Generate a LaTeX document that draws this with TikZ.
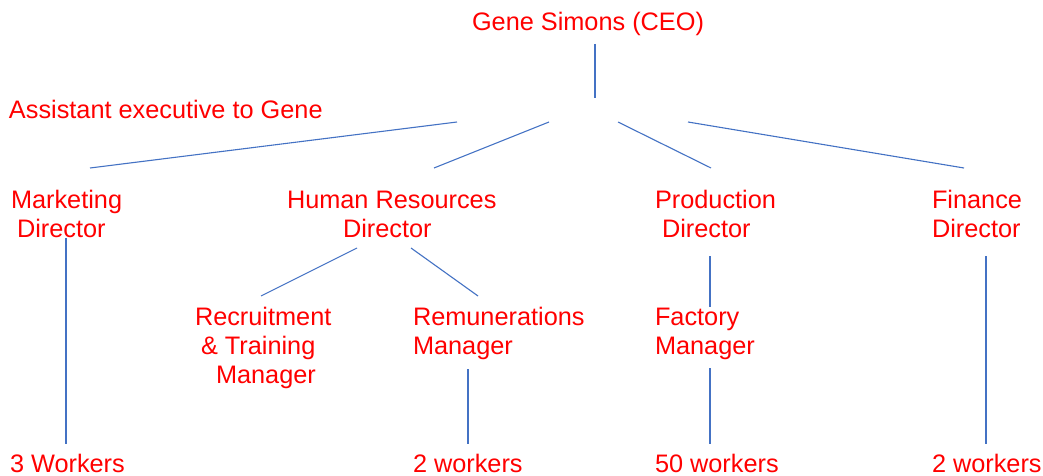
\documentclass[tikz,border=0pt]{standalone}
\usepackage{fontspec}
\setmainfont{Liberation Sans}
\definecolor{labelred}{RGB}{255,0,0}
\definecolor{linkblue}{RGB}{68,114,196}
\tikzset{
  label/.style={inner sep=0pt, outer sep=0pt, anchor=base west, align=left,
    text=labelred, font=\fontsize{25.3}{29}\selectfont},
  link/.style={draw=linkblue, line width=1.1pt}
}
\begin{document}
\begin{tikzpicture}[x=1pt, y=-1pt]
  \useasboundingbox[fill=white] (0,0) rectangle (1043,476);

  % text blocks (positioned at the baseline of their last line)
  \node[label] (ceo)   at (472,31)  {Gene Simons (CEO)};
  \node[label] (asst)  at (9,119)   {Assistant executive to Gene};
  \node[label] (mkt)   at (11,237)  {Marketing\\\hspace{6pt}Director};
  \node[label] (hr)    at (287,237) {Human Resources\\\hspace{56pt}Director};
  \node[label] (prod)  at (655,237) {Production\\\hspace{7pt}Director};
  \node[label] (fin)   at (932,237) {Finance\\Director};
  \node[label] (rec)   at (195,383) {Recruitment\\\hspace{6pt}\& Training\\\hspace{21pt}Manager};
  \node[label] (rem)   at (413,354) {Remunerations\\Manager};
  \node[label] (fac)   at (655,354) {Factory\\Manager};
  \node[label] (wmkt)  at (10,472)  {3 Workers};
  \node[label] (wrem)  at (413,472) {2 workers};
  \node[label] (wfac)  at (655,472) {50 workers};
  \node[label] (wfin)  at (932,472) {2 workers};

  % connector end points
  \coordinate (ceoA) at (595,44);
  \coordinate (ceoB) at (595,98);
  \coordinate (t1a) at (457,122);  \coordinate (t1b) at (90,168);
  \coordinate (t2a) at (549,122);  \coordinate (t2b) at (434,168);
  \coordinate (t3a) at (618,122);  \coordinate (t3b) at (711,168);
  \coordinate (t4a) at (688,122);  \coordinate (t4b) at (964,168);
  \coordinate (mA)  at (66,238);   \coordinate (mB)  at (66,444);
  \coordinate (h1a) at (357,248);  \coordinate (h1b) at (261,296);
  \coordinate (h2a) at (411,248);  \coordinate (h2b) at (478,296);
  \coordinate (rA)  at (468,369);  \coordinate (rB)  at (468,444);
  \coordinate (pA)  at (710,256);  \coordinate (pB)  at (710,307);
  \coordinate (fA)  at (710,368);  \coordinate (fB)  at (710,444);
  \coordinate (nA)  at (986,256);  \coordinate (nB)  at (986,444);

  % connectors
  \draw[link] (ceoA) -- (ceoB);
  \draw[link] (t1a) -- (t1b);
  \draw[link] (t2a) -- (t2b);
  \draw[link] (t3a) -- (t3b);
  \draw[link] (t4a) -- (t4b);
  \draw[link] (mA) -- (mB);
  \draw[link] (h1a) -- (h1b);
  \draw[link] (h2a) -- (h2b);
  \draw[link] (rA) -- (rB);
  \draw[link] (pA) -- (pB);
  \draw[link] (fA) -- (fB);
  \draw[link] (nA) -- (nB);
\end{tikzpicture}
\end{document}
